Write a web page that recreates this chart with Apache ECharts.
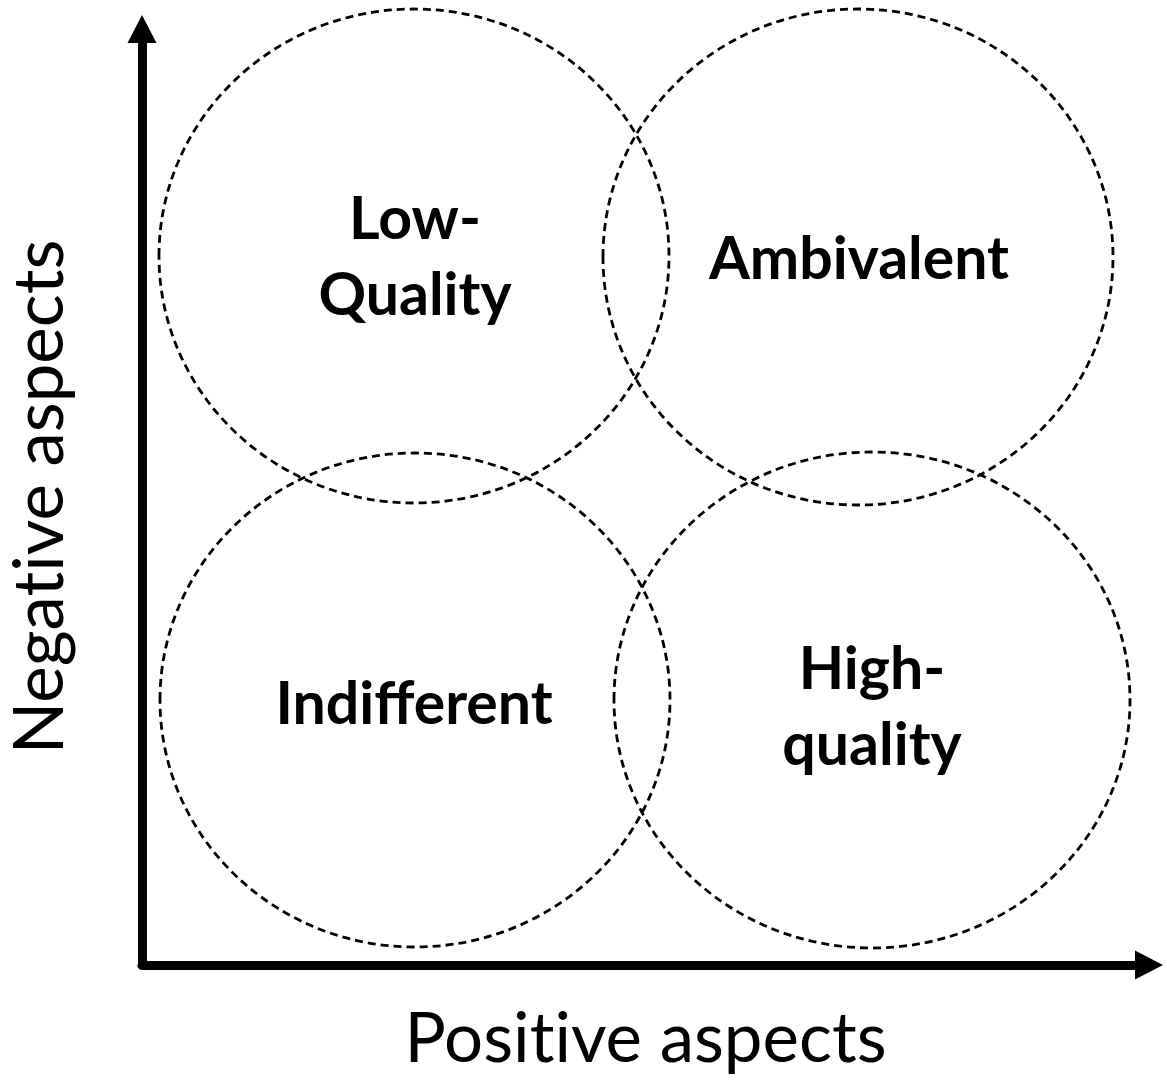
<!DOCTYPE html>
<html lang="en">
<head>
    <meta charset="UTF-8">
    <title>Positive vs Negative aspects</title>
    <script src="https://cdn.jsdelivr.net/npm/echarts@6.0.0/dist/echarts.min.js"></script>
    <style>
        html, body { margin: 0; padding: 0; background: #fff; }
    </style>
</head>
<body>
    <div id="main" style="width: 1167px;height:1081px;"></div>
    <script type="text/javascript">
        // circles (centre and radii in axis units)
        const circleX = [272, 716, 273, 730];
        const circleY = [709, 708, 265, 265];
        const radiusX = [255, 255, 255, 258];
        const radiusY = [247, 248, 247, 248];

        // quadrant labels
        const labelNames = ['Low-\nQuality', 'Ambivalent', 'Indifferent', 'High-\nquality'];
        const labelX = [273, 717, 272, 730];
        const labelY = [707, 705, 260, 257];

        const myChart = echarts.init(document.getElementById('main'));

        const circleData = circleX.map((x, i) => [x, circleY[i], radiusX[i], radiusY[i]]);
        const labelData = labelX.map((x, i) => [x, labelY[i], i]);

        const axisCommon = {
            type: 'value',
            min: 0,
            nameLocation: 'middle',
            nameTextStyle: {
                fontFamily: 'Lato',
                fontSize: 69,
                color: '#000'
            },
            axisLine: {
                show: true,
                symbol: ['none', 'triangle'],
                symbolSize: [29, 28],
                lineStyle: { color: '#000', width: 9 }
            },
            axisTick: { show: false },
            axisLabel: { show: false },
            splitLine: { show: false }
        };

        const option = {
            animation: false,
            grid: { left: 142, right: 18, top: 29, bottom: 116, outerBoundsMode: 'none', containLabel: false },
            xAxis: Object.assign({}, axisCommon, {
                max: 1007,
                // zero-width non-joiner keeps Lato from using its "ti" ligature
                name: 'Posit\u200Cive aspects',
                nameGap: 40
            }),
            yAxis: Object.assign({}, axisCommon, {
                max: 936,
                name: 'Negat\u200Cive aspects',
                nameGap: 67
            }),
            series: [{
                type: 'custom',
                data: circleData,
                silent: true,
                renderItem: function (params, api) {
                    const c = api.coord([api.value(0), api.value(1)]);
                    const s = api.size([api.value(2), api.value(3)]);
                    return {
                        type: 'ellipse',
                        shape: { cx: c[0], cy: c[1], rx: s[0], ry: s[1] },
                        style: {
                            fill: 'none',
                            stroke: '#000',
                            lineWidth: 2.8,
                            lineDash: [8, 5]
                        }
                    };
                }
            }, {
                type: 'custom',
                data: labelData,
                silent: true,
                renderItem: function (params, api) {
                    const c = api.coord([api.value(0), api.value(1)]);
                    return {
                        type: 'text',
                        x: c[0],
                        y: c[1],
                        style: {
                            text: labelNames[api.value(2)],
                            fontFamily: 'Lato',
                            fontWeight: 'bold',
                            fontSize: 59,
                            lineHeight: 76,
                            fill: '#000',
                            align: 'center',
                            verticalAlign: 'middle'
                        }
                    };
                }
            }]
        };

        myChart.setOption(option);
    </script>
</body>
</html>
